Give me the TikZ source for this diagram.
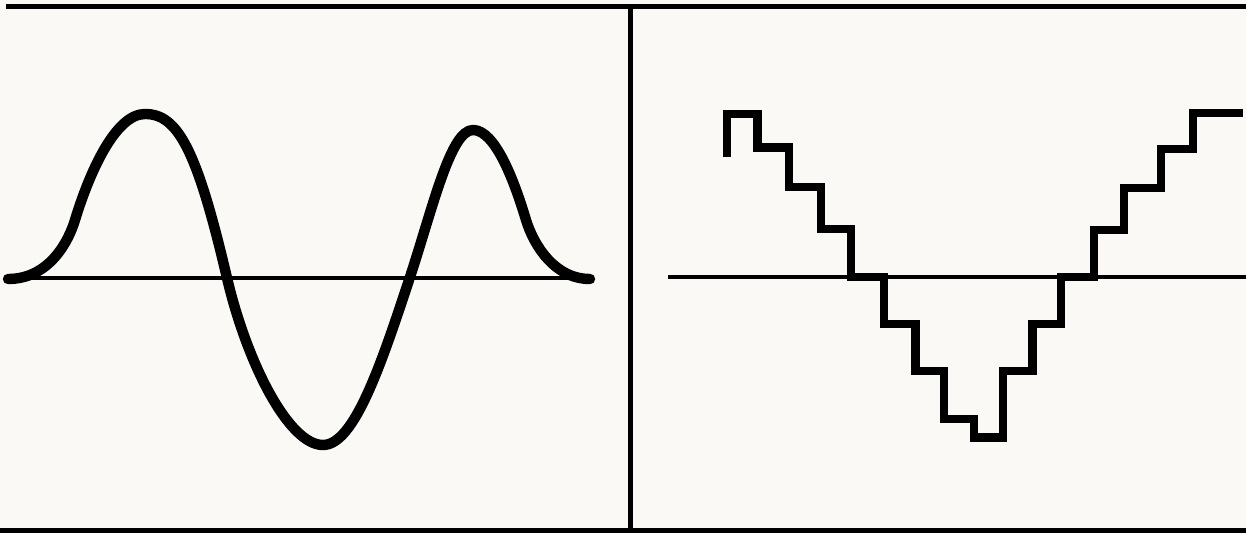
\documentclass[tikz,border=0pt]{standalone}
\definecolor{paper}{RGB}{250,249,245}
\tikzset{
  frame/.style={line width=2.5pt, black},
  axisline/.style={line width=2.2pt, black},
  wave/.style={line width=5.2pt, black, line cap=round, line join=round},
  stairs/.style={line width=4.2pt, black, line cap=butt, line join=miter},
}
\begin{document}
\begin{tikzpicture}[x=0.5pt,y=-0.5pt]
\useasboundingbox (0,0) rectangle (1246,533);
\fill[paper] (0,0) rectangle (1246,533);
% frame
\draw[frame] (6,6.5) -- (1246,6.5);
\draw[frame] (0,530.5) -- (1246,530.5);
\draw[frame] (630,6.5) -- (630,530.5);
% axes
\draw[axisline] (8,278) -- (590,278);
\draw[axisline] (668,277) -- (1246,277);
% wave
\draw[wave] (8,279)
  .. controls (50,279) and (69,240) .. (75,220)
  .. controls (89,174) and (115,114) .. (145,114)
  .. controls (178,114) and (197,150) .. (227,278)
  .. controls (247,363) and (288.7,445) .. (323,445)
  .. controls (354.1,445) and (380.9,365.2) .. (410,277)
  .. controls (433,207) and (450.5,130) .. (473,130)
  .. controls (495,130) and (514,180) .. (526,220)
  .. controls (534,246) and (555,279) .. (590,279);
% staircase
\draw[stairs] (727,157) -- (727,114) -- (757.5,114) -- (757.5,147.5) -- (789,147.5)
 -- (789,187) -- (821,187) -- (821,229) -- (851,229) -- (851,277) -- (884,277)
 -- (884,324) -- (915.5,324) -- (915.5,371) -- (944,371) -- (944,419) -- (974,419)
 -- (974,437.5) -- (1003,437.5) -- (1003,371) -- (1032.5,371) -- (1032.5,324)
 -- (1061,324) -- (1061,277) -- (1094,277) -- (1094,230) -- (1124,230) -- (1124,188)
 -- (1161,188) -- (1161,149) -- (1193,149) -- (1193,113) -- (1243,113);
\end{tikzpicture}
\end{document}
